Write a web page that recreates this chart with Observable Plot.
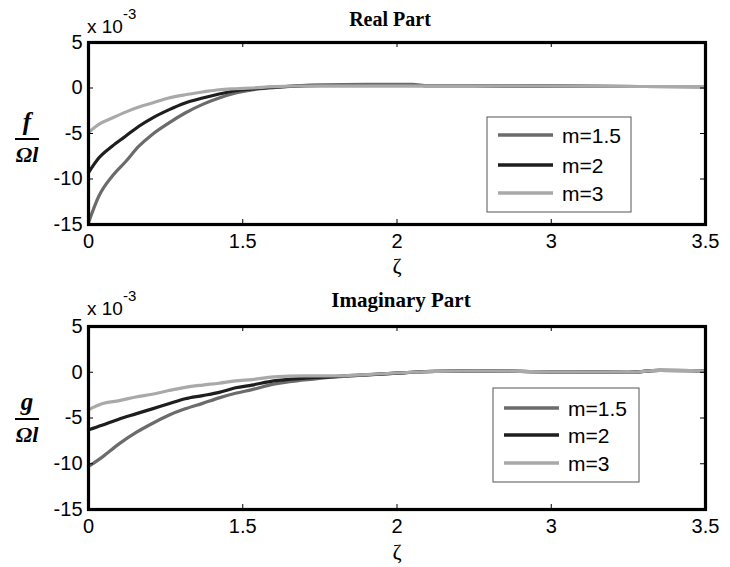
<!DOCTYPE html>
<html>
<head>
<meta charset="utf-8">
<script src="https://cdn.jsdelivr.net/npm/d3@7"></script>
<script src="https://cdn.jsdelivr.net/npm/@observablehq/plot@0.6"></script>
<style>
  html, body { margin: 0; padding: 0; background: #fff; }
  #chart svg { display: block; }
</style>
</head>
<body>
<div id="chart"></div>
<script>
// ---------- data ----------
const seriesNames = ["m=1.5", "m=2", "m=3"];
const seriesColors = ["#6b6b6b", "#1e1e1e", "#a9a9a9"];
const xTicks = [0, 1.5, 2, 3, 3.5];
const yTicks = [-15, -10, -5, 0, 5];

// Real part (values in units of 1e-3)
const zetaReal = [0, 0.1, 0.23, 0.36, 0.49, 0.62, 0.78, 0.94, 1.11, 1.27, 1.43, 1.53, 1.6, 1.75, 1.9, 2.0, 2.1, 2.2, 2.5, 3.0, 3.5];
const realM15  = [-14.8, -11.9, -9.7, -8.1, -6.4, -5.1, -3.85, -2.75, -1.8, -1.1, -0.55, -0.2, 0.05, 0.35, 0.4, 0.4, 0.4, 0.25, 0.25, 0.2, 0.15];
const realM2   = [-9.3, -7.7, -6.4, -5.3, -4.2, -3.3, -2.4, -1.65, -1.1, -0.66, -0.3, -0.1, 0.1, 0.25, 0.25, 0.25, 0.25, 0.25, 0.25, 0.2, 0.15];
const realM3   = [-4.9, -4.0, -3.3, -2.65, -2.1, -1.65, -1.1, -0.74, -0.44, -0.19, -0.08, 0.0, 0.15, 0.25, 0.25, 0.25, 0.25, 0.25, 0.25, 0.2, 0.15];

// Imaginary part (values in units of 1e-3)
const zetaImag = [0, 0.13, 0.3, 0.46, 0.62, 0.78, 0.94, 1.11, 1.27, 1.43, 1.53, 1.6, 1.7, 1.8, 1.9, 2.0, 2.1, 2.25, 2.5, 3.0, 3.25, 3.35, 3.5];
const imagM15  = [-10.3, -9.3, -7.8, -6.6, -5.6, -4.7, -4.0, -3.4, -2.8, -2.3, -1.9, -1.3, -0.85, -0.5, -0.3, -0.1, 0.0, 0.1, 0.15, 0.05, 0.0, 0.2, 0.15];
const imagM2   = [-6.3, -5.8, -5.1, -4.55, -4.0, -3.45, -2.9, -2.55, -2.2, -1.7, -1.4, -0.95, -0.65, -0.47, -0.28, -0.1, 0.0, 0.1, 0.15, 0.05, 0.0, 0.2, 0.15];
const imagM3   = [-4.1, -3.45, -3.1, -2.7, -2.4, -2.0, -1.65, -1.4, -1.2, -0.95, -0.8, -0.5, -0.4, -0.4, -0.25, -0.08, 0.0, 0.1, 0.15, 0.05, 0.0, 0.2, 0.15];

// ---------- helpers ----------
function toRows(zeta, seriesValues) {
  const rows = [];
  seriesValues.forEach((vals, i) => {
    vals.forEach((v, j) => rows.push({ zeta: zeta[j], value: v, series: seriesNames[i] }));
  });
  return rows;
}

// the printed axis places its labels 0, 1.5, 2, 3, 3.5 at equal spacing
const zetaToSlot = d3.scaleLinear().domain(xTicks).range(xTicks.map((_, i) => i));

const W = 730, ML = 88, MR = 25;
const frameW = W - ML - MR;

function panel(cfg) {
  const H = cfg.height;
  const frameH = H - cfg.marginTop - cfg.marginBottom;
  const rows = toRows(cfg.zeta, cfg.values);
  const svg = Plot.plot({
    width: W,
    height: H,
    marginLeft: ML,
    marginRight: MR,
    marginTop: cfg.marginTop,
    marginBottom: cfg.marginBottom,
    style: { fontFamily: "'Liberation Sans', Arial, sans-serif", fontSize: "20px", background: "#fff", color: "#000" },
    x: { transform: zetaToSlot, domain: [0, xTicks.length - 1], label: null },
    y: { domain: [-15, 5], label: null },
    color: { domain: seriesNames, range: seriesColors },
    marks: [
      Plot.line(rows, { x: "zeta", y: "value", z: "series", stroke: "series", strokeWidth: 3.2, curve: "monotone-x" }),
      Plot.tickX(xTicks, { x: d => d, insetTop: frameH - 5, stroke: "#000", strokeWidth: 1 }),
      Plot.tickX(xTicks, { x: d => d, insetBottom: frameH - 5, stroke: "#000", strokeWidth: 1 }),
      Plot.tickY(yTicks, { y: d => d, insetRight: frameW - 5, stroke: "#000", strokeWidth: 1 }),
      Plot.tickY(yTicks, { y: d => d, insetLeft: frameW - 5, stroke: "#000", strokeWidth: 1 }),
      Plot.axisX(xTicks, { tickSize: 0, tickPadding: 9, tickFormat: d => String(d), fontSize: 20, label: null }),
      Plot.axisY(yTicks, { tickSize: 0, tickPadding: 6, tickFormat: d => String(d), fontSize: 20, label: null }),
      Plot.frame({ stroke: "#000", strokeWidth: 3.2 })
    ]
  });

  const s = d3.select(svg);
  // title
  s.append("text").attr("x", cfg.titleX).attr("y", cfg.titleY)
    .attr("text-anchor", "middle")
    .style("font-family", "'Liberation Serif', 'Times New Roman', serif")
    .style("font-weight", "bold").style("font-size", cfg.titleSize + "px")
    .text(cfg.title);
  // exponent
  const ex = s.append("text").attr("x", ML - 1).attr("y", cfg.expY).attr("text-anchor", "start")
    .style("font-family", "'Liberation Sans', Arial, sans-serif").style("font-size", "19px");
  ex.append("tspan").text("x 10");
  ex.append("tspan").attr("dy", -14).style("font-size", "15px").text("-3");
  // x label
  s.append("text").attr("x", 397).attr("y", cfg.zetaY).attr("text-anchor", "middle")
    .style("font-family", "'Liberation Serif', 'Times New Roman', serif").style("font-size", "22px")
    .text("ζ");
  // y label fraction
  const fx = 27;
  s.append("text").attr("x", fx).attr("y", cfg.barY - 9).attr("text-anchor", "middle")
    .style("font-family", "'Liberation Serif', 'Times New Roman', serif")
    .style("font-weight", "bold").style("font-style", "italic").style("font-size", "25px")
    .text(cfg.numerator);
  s.append("line").attr("x1", fx - 12).attr("x2", fx + 12).attr("y1", cfg.barY).attr("y2", cfg.barY)
    .attr("stroke", "#000").attr("stroke-width", 2);
  s.append("text").attr("x", fx).attr("y", cfg.barY + 23).attr("text-anchor", "middle")
    .style("font-family", "'Liberation Serif', 'Times New Roman', serif")
    .style("font-weight", "bold").style("font-style", "italic").style("font-size", "22px")
    .text("Ωl");
  // legend
  const L = cfg.legend;
  s.append("rect").attr("x", L.x).attr("y", L.y).attr("width", L.w).attr("height", L.h)
    .attr("fill", "#fff").attr("stroke", "#555").attr("stroke-width", 1);
  seriesNames.forEach((name, i) => {
    const yy = L.y + L.rows[i];
    s.append("line").attr("x1", L.x + 11).attr("x2", L.x + 66).attr("y1", yy).attr("y2", yy)
      .attr("stroke", seriesColors[i]).attr("stroke-width", 3.5);
    s.append("text").attr("x", L.x + 75).attr("y", yy).attr("dy", "0.36em").attr("text-anchor", "start")
      .style("font-family", "'Liberation Sans', Arial, sans-serif").style("font-size", "21px")
      .text(name);
  });
  return svg;
}

const chart = document.getElementById("chart");
chart.appendChild(panel({
  height: 283, marginTop: 42, marginBottom: 59,
  zeta: zetaReal, values: [realM15, realM2, realM3],
  title: "Real Part", titleX: 390, titleY: 26, titleSize: 20,
  expY: 33, zetaY: 273, barY: 139, numerator: "f",
  legend: { x: 487, y: 117, w: 144, h: 95, rows: [18, 48, 76] }
}));
chart.appendChild(panel({
  height: 284, marginTop: 43, marginBottom: 58,
  zeta: zetaImag, values: [imagM15, imagM2, imagM3],
  title: "Imaginary Part", titleX: 401, titleY: 24, titleSize: 21,
  expY: 32, zetaY: 276, barY: 136, numerator: "g",
  legend: { x: 493, y: 105, w: 146, h: 94, rows: [20, 47, 75] }
}));
</script>
</body>
</html>
